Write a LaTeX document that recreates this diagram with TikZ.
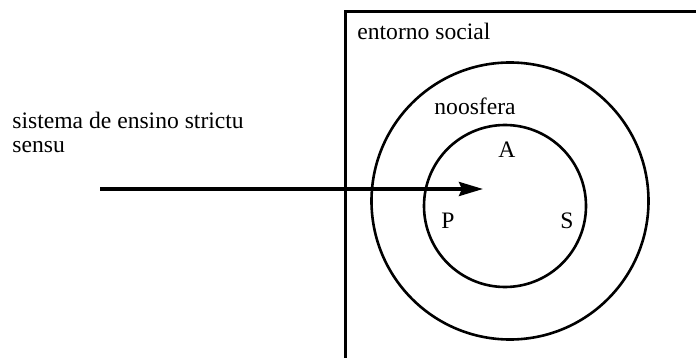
\documentclass[tikz,border=0pt]{standalone}
\usepackage{fontspec}
\setmainfont{Liberation Serif}
\usetikzlibrary{arrows.meta}

\begin{document}
\begin{tikzpicture}[x=0.5pt, y=-0.5pt,
  font=\fontsize{11.8}{12}\selectfont,
  >={Stealth[length=12pt, width=7pt, inset=1.5pt]},
  frame/.style={draw, line width=1.3pt, inner sep=0pt},
  ring/.style={frame, circle},
  lbl/.style={anchor=base, inner sep=0pt},
  fl/.style={->, line width=1.75pt}]

\useasboundingbox (0,0) rectangle (696,358);
\clip (0,0) rectangle (696,358);

% ================= social environment (cut at the page edge) =================
\node[frame, anchor=north west, minimum width=400pt, minimum height=250pt] (soc) at (344,10) {};
\node[lbl, anchor=base west] (socl) at (357,40) {entorno social};

% ================= noosphere and didactic system =================
\node[ring, minimum size=138.5pt] (noo) at (510,201) {};
\node[ring, minimum size=81pt] (sys) at (505,206) {};
\node[lbl, anchor=base west] (nool) at (434,115) {noosfera};
\node[lbl] (a) at (507,157) {A};
\node[lbl] (p) at (448,228) {P};
\node[lbl] (s) at (567,228) {S};

% ================= teaching system, strict sense =================
\node[lbl, anchor=base west, align=left] (ens) at (12,153) {sistema de ensino strictu\\sensu};
\coordinate (src) at (100,189);
\coordinate (tip) at (483,189);
\draw[fl] (src) -- (tip);
\end{tikzpicture}
\end{document}
